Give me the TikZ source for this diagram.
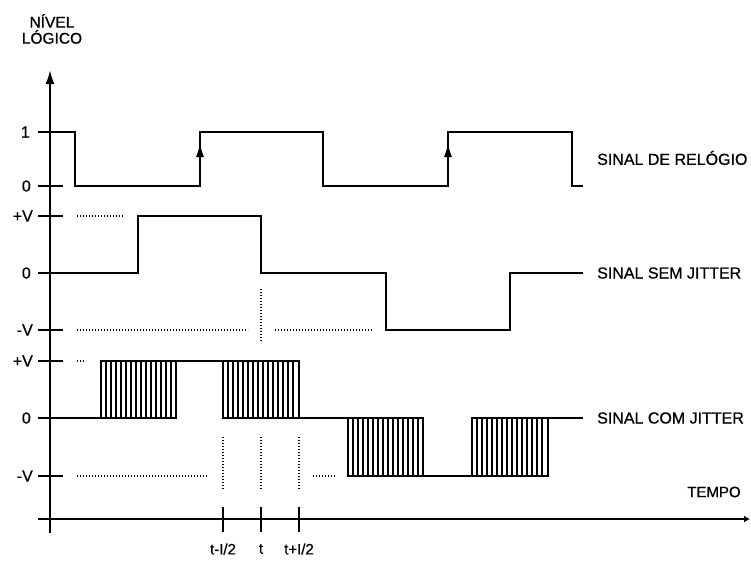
\documentclass[tikz,border=0pt]{standalone}
\usepackage{fontspec}
\setmainfont{Liberation Sans}[BoldFont=Liberation Sans, BoldFeatures={FakeBold=0.7}]
\usetikzlibrary{arrows.meta}

\begin{document}
\begin{tikzpicture}[x=1pt, y=-1pt,
  signal/.style={line width=2pt},
  axis/.style={line width=2pt},
  guide/.style={dash pattern=on 1.4pt off 1.6pt, line width=1.4pt},
  tickmark/.style={line width=1.8pt},
  hatch/.style={line width=1.2pt},
  lvl/.style={anchor=east, inner sep=0pt, font=\fontsize{16}{16}\selectfont\bfseries},
  signame/.style={anchor=west, inner sep=0pt, font=\fontsize{16}{16}\selectfont\bfseries},
  tlabel/.style={inner sep=0pt, font=\fontsize{15}{15}\selectfont\bfseries},
  edgearrow/.style={-{Latex[length=14pt,width=8pt]}, line width=2pt},
]
\useasboundingbox (0,0) rectangle (751,566);

% Axes
\coordinate (ybot) at (50,533);
\coordinate (ytop) at (50,70);
\coordinate (xleft) at (38,519);
\coordinate (xright) at (750,519);
\draw[axis, -{Latex[length=14pt,width=9pt]}] (ybot) -- (ytop);
\draw[axis, -{Latex[length=6pt,width=7pt]}] (xleft) -- (xright);
\node[align=center, inner sep=0pt, font=\fontsize{15.5}{16}\selectfont\bfseries] (nivel) at (52,29) {NÍVEL\\LÓGICO};
\node[tlabel] (tempo) at (714,492) {TEMPO};

% Level ticks and labels
\foreach \y in {132,186,216,273,330,361,418,476}
  \draw[tickmark] (38,\y) -- (63,\y);
\node[lvl] (one) at (30,132) {1};
\node[lvl] (zeroA) at (31,186) {0};
\node[lvl] (posA) at (33,216) {+V};
\node[lvl] (zeroB) at (31,273) {0};
\node[lvl] (negA) at (33,330) {-V};
\node[lvl] (posB) at (33,361) {+V};
\node[lvl] (zeroC) at (31,418) {0};
\node[lvl] (negB) at (33,476) {-V};

% Time ticks and labels
\foreach \x/\lab/\nm in {223/t-I\slash 2/tm, 261/t/tc, 299/t+I\slash 2/tp}{
  \draw[tickmark] (\x,507) -- (\x,532);
  \node[tlabel] (\nm) at (\x,549) {\lab};
}

% Clock signal
\draw[signal] (50,132) -- (75,132) -- (75,186) -- (200,186) -- (200,132) -- (323,132)
  -- (323,186) -- (448,186) -- (448,132) -- (572,132) -- (572,186) -- (583,186);
\draw[edgearrow] (200,175) -- (200,143);
\draw[edgearrow] (448,175) -- (448,143);
\node[signame] (relogio) at (597,158) {SINAL DE RELÓGIO};

% Signal without jitter
\draw[signal] (50,273) -- (138,273) -- (138,216) -- (261,216) -- (261,273) -- (386,273)
  -- (386,330) -- (510,330) -- (510,273) -- (583,273);
\draw[guide] (77,216) -- (123,216);
\draw[guide] (77,330) -- (248,330);
\draw[guide] (275,330) -- (373,330);
\draw[guide] (261,289) -- (261,343);
\node[signame] (semjitter) at (597,273) {SINAL SEM JITTER};

% Signal with jitter
\foreach \xa/\ya/\xb/\yb in {101/361/176/418, 223/361/299/418, 348/418/423/476, 472/418/548/476}{
  \foreach \i in {1,...,14}
    \draw[hatch] (\xa+5*\i,\ya) -- (\xa+5*\i,\yb);
  \draw[signal] (\xa,\ya) rectangle (\xb,\yb);
}
\draw[signal] (50,418) -- (101,418);
\draw[signal] (176,361) -- (223,361);
\draw[signal] (299,418) -- (348,418);
\draw[signal] (423,476) -- (472,476);
\draw[signal] (548,418) -- (583,418);
\draw[guide] (77,361) -- (86,361);
\draw[guide] (77,476) -- (208,476);
\draw[guide] (313,476) -- (335,476);
\draw[guide, line width=2pt] (223,437) -- (223,489);
\draw[guide] (261,437) -- (261,489);
\draw[guide] (299,437) -- (299,489);
\node[signame] (comjitter) at (597,418) {SINAL COM JITTER};

\end{tikzpicture}
\end{document}
